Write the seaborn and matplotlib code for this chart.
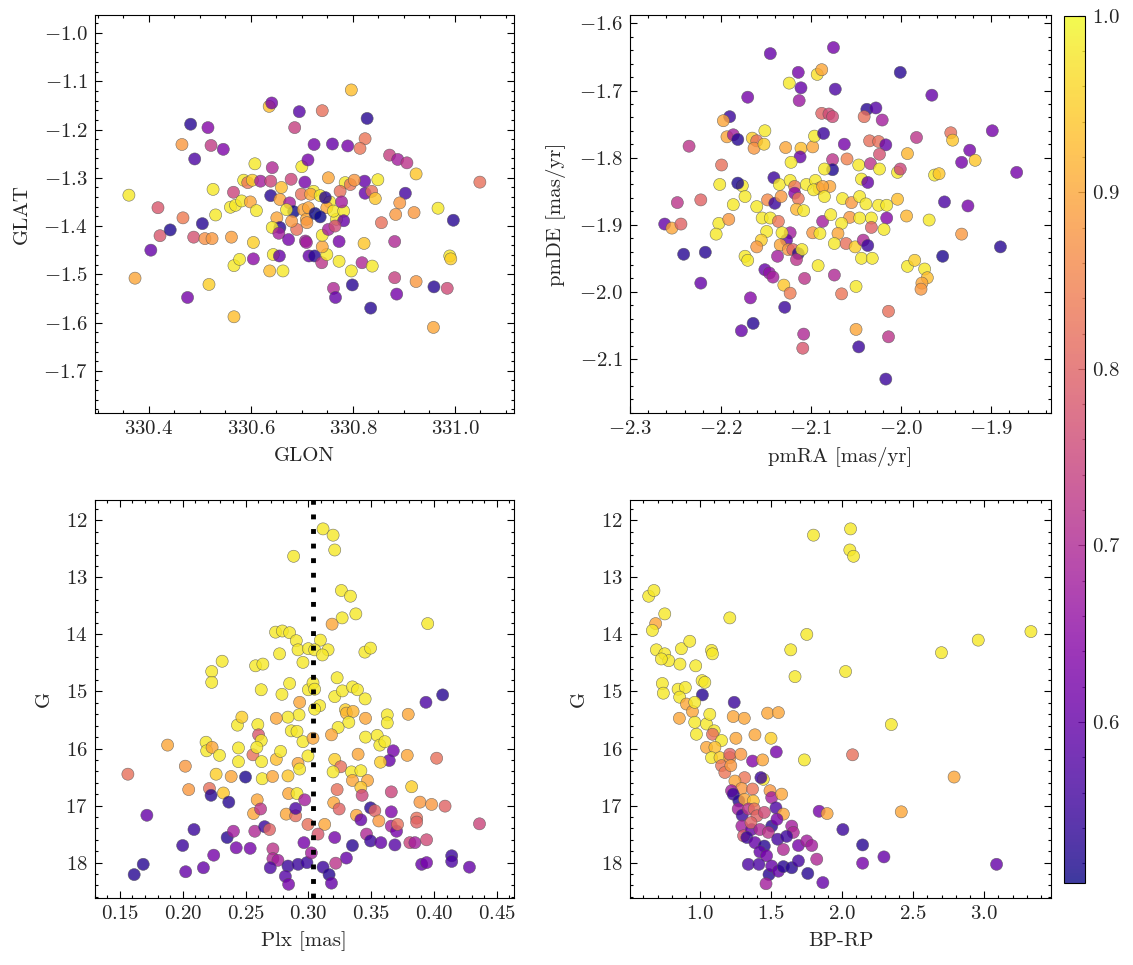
import numpy as np
import pandas as pd
import matplotlib
matplotlib.use("Agg")
import matplotlib.pyplot as plt
import seaborn as sns
from matplotlib.ticker import AutoMinorLocator

# ---------------- data ----------------
# Panel 1: GLON / GLAT
glon = [330.361, 330.373, 330.404, 330.418, 330.422, 330.442, 330.465, 330.467, 330.482, 330.490,
        330.476, 330.488, 330.505, 330.510, 330.524, 330.516, 330.522, 330.546, 330.518, 330.526,
        330.531, 330.562, 330.567, 330.566, 330.560, 330.570, 330.567, 330.578, 330.582, 330.586,
        330.594, 330.599, 330.603, 330.608, 330.611, 330.605, 330.605, 330.619, 330.639, 330.636,
        330.641, 330.642, 330.639, 330.637, 330.644, 330.656, 330.663, 330.686, 330.695, 330.700,
        330.712, 330.679, 330.660, 330.706, 330.657, 330.676, 330.684, 330.699, 330.651, 330.657,
        330.642, 330.655, 330.674, 330.690, 330.680, 330.707, 330.703, 330.670, 330.714, 330.709,
        330.797, 330.740, 330.828, 330.724, 330.760, 330.790, 330.824, 330.814, 330.872, 330.888,
        330.906, 330.924, 331.049, 330.849, 330.823, 330.824, 330.837, 330.844, 330.752, 330.785,
        330.795, 330.803, 330.903, 330.892, 330.884, 330.920, 330.856, 330.967, 330.997, 330.822,
        330.882, 330.773, 330.773, 330.818, 330.838, 330.797, 330.799, 330.762, 330.766, 330.835,
        330.882, 330.886, 330.924, 330.959, 330.985, 330.990, 330.992, 330.958, 330.725, 330.739,
        330.749, 330.740, 330.709, 330.740, 330.723, 330.717, 330.713, 330.736, 330.755, 330.710,
        330.768, 330.749, 330.762, 330.782, 330.775, 330.778, 330.782, 330.752, 330.765, 330.746,
        330.726, 330.736]
glat = [-1.336, -1.508, -1.450, -1.362, -1.420, -1.408, -1.231, -1.383, -1.189, -1.261,
        -1.548, -1.423, -1.395, -1.426, -1.426, -1.196, -1.233, -1.241, -1.521, -1.324,
        -1.377, -1.423, -1.588, -1.330, -1.361, -1.357, -1.482, -1.469, -1.348, -1.305,
        -1.310, -1.350, -1.305, -1.271, -1.368, -1.434, -1.468, -1.307, -1.307, -1.152,
        -1.145, -1.279, -1.337, -1.493, -1.459, -1.462, -1.493, -1.196, -1.163, -1.277,
        -1.263, -1.303, -1.320, -1.309, -1.345, -1.352, -1.370, -1.334, -1.383, -1.403,
        -1.403, -1.415, -1.428, -1.407, -1.390, -1.431, -1.366, -1.366, -1.462, -1.386,
        -1.118, -1.161, -1.177, -1.231, -1.230, -1.234, -1.219, -1.239, -1.253, -1.262,
        -1.269, -1.292, -1.309, -1.304, -1.307, -1.332, -1.328, -1.343, -1.300, -1.310,
        -1.314, -1.305, -1.332, -1.352, -1.376, -1.372, -1.393, -1.363, -1.388, -1.436,
        -1.432, -1.432, -1.473, -1.476, -1.483, -1.493, -1.522, -1.529, -1.548, -1.570,
        -1.507, -1.541, -1.515, -1.526, -1.529, -1.462, -1.468, -1.610, -1.462, -1.476,
        -1.459, -1.443, -1.434, -1.419, -1.328, -1.334, -1.362, -1.337, -1.350, -1.393,
        -1.386, -1.362, -1.369, -1.369, -1.328, -1.350, -1.389, -1.407, -1.400, -1.341,
        -1.374, -1.381]
prob1 = [0.98, 0.90, 0.60, 0.78, 0.78, 0.52, 0.88, 0.84, 0.53, 0.57,
         0.62, 0.77, 0.53, 0.87, 0.88, 0.64, 0.73, 0.63, 0.95, 0.98,
         0.98, 0.89, 0.93, 0.75, 0.98, 0.98, 0.98, 0.98, 0.98, 0.98,
         0.83, 0.90, 0.95, 0.98, 0.98, 0.95, 0.65, 0.68, 0.75, 0.93,
         0.62, 0.70, 0.53, 0.93, 0.98, 0.60, 0.98, 0.74, 0.58, 0.98,
         0.62, 0.75, 0.93, 0.62, 0.90, 0.68, 0.51, 0.82, 0.90, 0.53,
         0.98, 0.68, 0.62, 0.82, 0.88, 0.68, 0.90, 0.98, 0.60, 0.90,
         0.93, 0.82, 0.53, 0.62, 0.60, 0.62, 0.83, 0.83, 0.74, 0.68,
         0.72, 0.94, 0.82, 0.98, 0.60, 0.60, 0.82, 0.94, 0.90, 0.98,
         0.83, 0.88, 0.56, 0.88, 0.88, 0.88, 0.82, 0.98, 0.53, 0.94,
         0.70, 0.62, 0.98, 0.70, 0.98, 0.98, 0.53, 0.70, 0.60, 0.53,
         0.74, 0.62, 0.88, 0.53, 0.76, 0.98, 0.95, 0.90, 0.53, 0.72,
         0.98, 0.90, 0.68, 0.98, 0.98, 0.90, 0.90, 0.98, 0.98, 0.88,
         0.98, 0.90, 0.98, 0.98, 0.82, 0.68, 0.60, 0.68, 0.76, 0.53,
         0.51, 0.51]

# Panel 2: pmRA / pmDE
pmra = [-2.145, -2.114, -2.111, -2.113, -2.124, -2.093, -2.088, -2.170, -2.190, -2.197,
        -2.193, -2.186, -2.181, -2.235, -2.165, -2.151, -2.160, -2.163, -2.152, -2.128,
        -2.111, -2.098, -2.096, -2.112, -2.122, -2.199, -2.201, -2.176, -2.181, -2.173,
        -2.141, -2.135, -2.123, -2.118, -2.118, -2.114, -2.105, -2.095, -2.091, -2.248,
        -2.222, -2.186, -2.160, -2.148, -2.140, -2.133, -2.116, -2.108, -2.262, -2.254,
        -2.244, -2.202, -2.205, -2.191, -2.154, -2.145, -2.136, -2.149, -2.155, -2.160,
        -2.123, -2.127, -2.132, -2.134, -2.125, -2.120, -2.114, -2.110, -2.116, -2.098,
        -2.090, -2.087, -2.241, -2.217, -2.173, -2.170, -2.137, -2.092, -2.151, -2.146,
        -2.142, -2.130, -2.123, -2.107, -2.222, -2.167, -2.129, -2.164, -2.177, -2.108,
        -2.109, -2.086, -2.088, -2.097,
        -2.075, -2.001, -2.073, -1.966, -2.038, -2.028, -2.041, -2.021, -2.080, -2.076,
        -2.063, -2.035, -2.025, -2.017, -2.024, -1.983, -1.993, -1.945, -1.943, -1.899,
        -1.924, -1.933, -1.918, -1.872, -2.060, -2.076, -2.076, -2.047, -2.034, -2.024,
        -2.004, -2.001, -2.044, -2.037, -1.963, -1.958, -2.085, -2.079, -2.087, -2.085,
        -2.065, -2.055, -2.046, -2.039, -2.025, -2.016, -2.004, -1.952, -1.926, -1.994,
        -1.969, -2.016, -2.078, -2.057, -2.066, -2.046, -2.033, -2.033, -2.019, -2.070,
        -2.074, -2.061, -2.051, -2.042, -2.037, -2.044, -2.032, -1.933, -1.890, -1.954,
        -1.993, -1.985, -1.974, -1.971, -1.977, -1.978, -2.074, -2.050, -2.066, -2.014,
        -2.050, -2.014, -2.047, -2.017]
pmde = [-1.645, -1.673, -1.696, -1.715, -1.689, -1.676, -1.669, -1.710, -1.739, -1.745,
        -1.769, -1.766, -1.773, -1.783, -1.771, -1.760, -1.775, -1.786, -1.780, -1.785,
        -1.786, -1.784, -1.768, -1.799, -1.807, -1.811, -1.840, -1.842, -1.838, -1.858,
        -1.830, -1.840, -1.834, -1.843, -1.853, -1.861, -1.840, -1.834, -1.846, -1.867,
        -1.863, -1.870, -1.873, -1.863, -1.868, -1.858, -1.877, -1.879, -1.899, -1.905,
        -1.899, -1.898, -1.914, -1.892, -1.890, -1.890, -1.895, -1.910, -1.923, -1.933,
        -1.912, -1.923, -1.912, -1.930, -1.937, -1.937, -1.943, -1.937, -1.952, -1.912,
        -1.913, -1.895, -1.944, -1.941, -1.947, -1.953, -1.947, -1.961, -1.967, -1.972,
        -1.978, -1.990, -2.002, -1.980, -1.987, -2.009, -2.023, -2.047, -2.058, -2.063,
        -2.084, -1.764, -1.734, -1.848,
        -1.636, -1.673, -1.698, -1.707, -1.728, -1.726, -1.739, -1.744, -1.735, -1.739,
        -1.780, -1.775, -1.776, -1.781, -1.795, -1.770, -1.794, -1.763, -1.774, -1.760,
        -1.789, -1.807, -1.804, -1.822, -1.802, -1.803, -1.818, -1.811, -1.809, -1.817,
        -1.822, -1.817, -1.832, -1.837, -1.826, -1.824, -1.817, -1.843, -1.843, -1.858,
        -1.861, -1.867, -1.858, -1.869, -1.871, -1.871, -1.862, -1.866, -1.872, -1.887,
        -1.893, -1.890, -1.885, -1.889, -1.898, -1.890, -1.890, -1.904, -1.907, -1.913,
        -1.928, -1.928, -1.933, -1.923, -1.931, -1.950, -1.950, -1.914, -1.933, -1.947,
        -1.962, -1.953, -1.966, -1.979, -1.987, -1.996, -1.975, -1.992, -2.003, -2.029,
        -2.056, -2.067, -2.082, -2.130]
prob2 = [0.60, 0.62, 0.60, 0.67, 0.98, 0.97, 0.90, 0.62, 0.55, 0.90,
         0.90, 0.68, 0.53, 0.72, 0.95, 0.98, 0.82, 0.88, 0.95, 0.90,
         0.93, 0.90, 0.98, 0.60, 0.98, 0.82, 0.98, 0.98, 0.52, 0.98,
         0.55, 0.98, 0.98, 0.83, 0.64, 0.83, 0.98, 0.98, 0.90, 0.72,
         0.80, 0.98, 0.98, 0.86, 0.55, 0.88, 0.92, 0.98, 0.60, 0.90,
         0.80, 0.98, 0.98, 0.88, 0.98, 0.98, 0.83, 0.98, 0.95, 0.88,
         0.68, 0.60, 0.98, 0.90, 0.88, 0.80, 0.53, 0.98, 0.72, 0.88,
         0.98, 0.68, 0.53, 0.53, 0.98, 0.98, 0.68, 0.98, 0.60, 0.66,
         0.68, 0.94, 0.84, 0.72, 0.60, 0.64, 0.55, 0.53, 0.60, 0.70,
         0.78, 0.55, 0.80, 0.98,
         0.62, 0.53, 0.57, 0.60, 0.53, 0.58, 0.82, 0.68, 0.76, 0.76,
         0.62, 0.82, 0.82, 0.60, 0.77, 0.72, 0.92, 0.82, 0.94, 0.62,
         0.62, 0.62, 0.94, 0.62, 0.85, 0.72, 0.52, 0.98, 0.72, 0.98,
         0.98, 0.75, 0.98, 0.60, 0.98, 0.94, 0.98, 0.90, 0.90, 0.98,
         0.98, 0.88, 0.98, 0.98, 0.98, 0.98, 0.93, 0.57, 0.62, 0.92,
         0.98, 0.64, 0.98, 0.88, 0.98, 0.98, 0.98, 0.80, 0.98, 0.90,
         0.98, 0.82, 0.95, 0.70, 0.55, 0.98, 0.98, 0.88, 0.53, 0.52,
         0.98, 0.95, 0.98, 0.93, 0.90, 0.88, 0.70, 0.98, 0.83, 0.82,
         0.90, 0.72, 0.55, 0.55]

# Panel 3: Plx / G
plx = [0.2883, 0.1564, 0.1880, 0.1715, 0.1614, 0.1686, 0.2021, 0.2048, 0.2000, 0.2090,
       0.2024, 0.2165, 0.2231, 0.2231, 0.2314, 0.2186, 0.2191, 0.2234, 0.2293, 0.2266,
       0.2213, 0.2226, 0.2324, 0.2367, 0.2247, 0.2354, 0.2404, 0.2426, 0.2386, 0.2444,
       0.2444, 0.2436, 0.2471, 0.2500, 0.2537, 0.2574, 0.2559, 0.2598, 0.2604, 0.2625,
       0.2590, 0.2628, 0.2633, 0.2593, 0.2564, 0.2620, 0.2652, 0.2691, 0.2580, 0.2638,
       0.2625, 0.2739, 0.2793, 0.2851, 0.2904, 0.2918, 0.2957, 0.2771, 0.2790, 0.2851,
       0.2931, 0.2926, 0.2838, 0.2745, 0.2864, 0.2910, 0.2957, 0.2745, 0.2779, 0.2715,
       0.2838, 0.2918, 0.2931, 0.2843, 0.2910, 0.2824, 0.2899, 0.2899, 0.2971, 0.2965,
       0.2718, 0.2718, 0.2758, 0.2697, 0.2838, 0.2817, 0.2843, 0.2918, 0.2989, 0.2997,
       0.2997, 0.3000, 0.3000,
       0.3117, 0.3197, 0.3210, 0.3263, 0.3335, 0.3269, 0.3378, 0.3189, 0.3950, 0.3450,
       0.3495, 0.3096, 0.3157, 0.3050, 0.3112, 0.3037, 0.3050, 0.3229, 0.3210, 0.3271,
       0.3351, 0.3391, 0.3452, 0.3090, 0.3050, 0.3295, 0.3303, 0.3356, 0.3322, 0.3455,
       0.3628, 0.3628, 0.3795, 0.3936, 0.4069, 0.3237, 0.3184, 0.3037, 0.3455, 0.3548,
       0.3569, 0.3609, 0.3676, 0.3644, 0.3574, 0.3787, 0.4021, 0.3396, 0.3210, 0.3258,
       0.3197, 0.3343, 0.3418, 0.3351, 0.3471, 0.3418, 0.3428, 0.3229, 0.3660, 0.3822,
       0.3202, 0.3245, 0.3495, 0.3529, 0.3660, 0.3888, 0.3981, 0.4088, 0.4362, 0.3383,
       0.3418, 0.3561, 0.3660, 0.3702, 0.3710, 0.3862, 0.3862, 0.3130, 0.3077, 0.3210,
       0.3463, 0.3495, 0.3577, 0.3351, 0.3689, 0.3808, 0.3848, 0.3941, 0.3303, 0.3218,
       0.3117, 0.3165, 0.3184, 0.3902, 0.3941, 0.4141, 0.4141, 0.4282, 0.3024]
gmag3 = [12.63, 16.45, 15.94, 17.17, 18.21, 18.03, 16.31, 16.72, 17.70, 17.42,
         18.16, 18.09, 14.65, 14.84, 14.47, 15.89, 16.04, 15.98, 16.12, 16.45,
         16.70, 16.82, 16.78, 16.94, 17.87, 17.56, 17.45, 17.74, 16.49, 16.23,
         15.99, 15.59, 15.45, 16.50, 17.75, 17.45, 16.11, 15.58, 15.76, 15.86,
         15.98, 16.23, 16.53, 16.90, 17.14, 17.06, 17.37, 17.42, 14.55, 14.52,
         14.97, 13.96, 13.94, 13.97, 14.11, 14.27, 14.49, 14.34, 15.05, 14.86,
         15.19, 15.41, 15.45, 15.47, 15.69, 15.70, 15.88, 16.19, 16.05, 16.49,
         16.48, 16.26, 16.36, 16.79, 16.79, 17.15, 17.18, 17.05, 16.90, 17.65,
         17.76, 17.93, 17.96, 18.09, 18.06, 18.24, 18.38, 18.03, 18.00, 17.33,
         16.13, 14.25, 14.97,
         12.15, 12.26, 12.52, 13.23, 13.33, 13.71, 13.64, 13.82, 13.81, 14.31,
         14.24, 14.10, 14.27, 14.27, 14.36, 14.85, 14.96, 14.76, 15.09, 14.99,
         14.92, 14.97, 15.13, 15.25, 15.31, 15.32, 15.38, 15.35, 15.54, 15.47,
         15.41, 15.55, 15.40, 15.19, 15.06, 15.63, 15.76, 15.82, 15.80, 15.77,
         15.94, 15.88, 16.04, 16.21, 16.24, 16.12, 16.17, 16.10, 16.19, 16.32,
         16.41, 16.41, 16.39, 16.56, 16.56, 16.68, 16.82, 16.72, 16.76, 16.67,
         16.95, 17.06, 17.04, 17.09, 17.11, 16.94, 16.98, 17.01, 17.32, 17.17,
         17.25, 17.27, 17.36, 17.45, 17.33, 17.22, 17.29, 17.33, 17.50, 17.56,
         17.50, 17.62, 17.65, 17.70, 17.69, 17.65, 17.65, 17.60, 17.92, 18.01,
         18.08, 18.21, 18.36, 18.03, 18.00, 17.88, 17.98, 18.08, 17.83]
prob3 = [0.98, 0.82, 0.90, 0.60, 0.53, 0.53, 0.88, 0.88, 0.55, 0.55,
         0.60, 0.60, 0.98, 0.98, 0.98, 0.98, 0.98, 0.90, 0.98, 0.95,
         0.82, 0.53, 0.94, 0.53, 0.62, 0.53, 0.68, 0.62, 0.90, 0.98,
         0.98, 0.98, 0.95, 0.52, 0.62, 0.70, 0.82, 0.98, 0.78, 0.98,
         0.98, 0.98, 0.98, 0.90, 0.90, 0.72, 0.55, 0.80, 0.98, 0.98,
         0.98, 0.98, 0.98, 0.98, 0.98, 0.98, 0.98, 0.98, 0.98, 0.98,
         0.90, 0.98, 0.98, 0.90, 0.98, 0.98, 0.98, 0.93, 0.98, 0.90,
         0.94, 0.90, 0.98, 0.90, 0.98, 0.90, 0.82, 0.57, 0.68, 0.62,
         0.72, 0.70, 0.68, 0.57, 0.55, 0.58, 0.62, 0.55, 0.55, 0.82,
         0.98, 0.98, 0.98,
         0.98, 0.98, 0.98, 0.98, 0.98, 0.98, 0.98, 0.90, 0.98, 0.98,
         0.98, 0.98, 0.98, 0.98, 0.98, 0.98, 0.98, 0.98, 0.98, 0.98,
         0.98, 0.98, 0.98, 0.98, 0.98, 0.95, 0.92, 0.92, 0.98, 0.90,
         0.98, 0.98, 0.90, 0.57, 0.53, 0.98, 0.90, 0.90, 0.98, 0.98,
         0.98, 0.98, 0.62, 0.60, 0.95, 0.90, 0.82, 0.90, 0.95, 0.82,
         0.98, 0.98, 0.98, 0.90, 0.90, 0.94, 0.75, 0.82, 0.75, 0.95,
         0.90, 0.80, 0.53, 0.80, 0.63, 0.88, 0.88, 0.80, 0.75, 0.90,
         0.60, 0.88, 0.68, 0.62, 0.82, 0.82, 0.80, 0.90, 0.78, 0.62,
         0.70, 0.55, 0.60, 0.53, 0.58, 0.75, 0.68, 0.76, 0.60, 0.72,
         0.55, 0.53, 0.60, 0.60, 0.62, 0.55, 0.57, 0.60, 0.68]
plx_ref = 0.3037

# Panel 4: BP-RP / G
bprp = [1.798, 0.638, 0.675, 0.751, 0.687, 0.664, 0.692, 0.751, 0.779, 0.727,
        0.868, 0.927, 0.858, 0.969, 1.080, 1.087, 1.209, 0.734, 0.741, 0.845,
        0.896, 0.856, 0.904, 0.854, 0.946, 1.014, 1.033, 1.016, 0.962, 0.962,
        0.974, 1.045, 1.068, 1.099, 1.087, 1.151, 1.045, 1.104, 1.080, 1.140,
        1.151, 1.174, 1.209, 1.240, 1.233, 1.311, 1.252, 1.386, 1.475, 1.551,
        1.499, 1.536, 1.638, 1.668, 1.751, 1.734, 1.209, 1.287, 1.216, 1.369,
        1.440, 1.445, 1.428, 1.313, 1.245, 1.292, 1.369, 1.221, 1.233, 1.273,
        1.313, 1.374, 1.492, 1.504, 1.574, 1.268, 1.296, 1.341, 1.381, 1.400,
        1.452, 1.534, 1.586, 1.294, 1.306, 1.362, 1.329, 1.358, 1.421, 1.504,
        1.541, 1.480, 1.546, 1.386, 1.452, 1.421, 1.468, 1.339, 1.414, 1.485,
        1.464, 1.504, 1.551, 1.586, 1.645, 1.586, 1.645, 1.656, 1.692, 1.692,
        1.751, 1.786, 1.821, 1.758, 1.838, 1.864, 1.609,
        2.059, 2.054, 2.080, 3.329, 2.958, 2.699, 2.024, 2.346, 2.073, 2.788,
        2.416, 1.894, 2.005, 2.144, 2.294, 2.144, 3.087]
gmag4 = [12.26, 13.33, 13.23, 13.64, 13.81, 13.93, 14.27, 14.34, 14.46, 14.43,
         14.25, 14.12, 14.52, 14.55, 14.28, 14.34, 13.71, 14.86, 15.03, 14.96,
         14.93, 15.10, 15.22, 15.47, 15.35, 14.81, 14.84, 15.06, 15.19, 15.54,
         15.75, 15.57, 15.40, 15.69, 15.75, 15.86, 15.98, 15.98, 16.16, 16.16,
         16.30, 16.42, 16.16, 15.19, 15.44, 15.47, 15.82, 15.76, 15.38, 15.37,
         15.82, 16.06, 14.27, 14.74, 14.00, 16.20, 16.10, 16.10, 16.30, 16.22,
         16.20, 16.54, 16.51, 16.51, 16.57, 16.70, 16.71, 16.74, 16.80, 16.92,
         16.89, 16.92, 16.74, 16.86, 16.80, 17.06, 17.17, 17.06, 17.06, 17.18,
         17.12, 17.04, 17.15, 17.36, 17.53, 17.42, 17.56, 17.30, 17.42, 17.36,
         17.24, 17.47, 17.59, 17.65, 17.71, 17.81, 17.88, 18.03, 18.03, 18.21,
         18.37, 18.06, 18.15, 18.07, 18.09, 17.77, 17.36, 17.47, 17.70, 17.97,
         17.62, 17.70, 17.94, 18.19, 17.10, 18.35, 17.54,
         12.15, 12.52, 12.63, 13.95, 14.10, 14.32, 14.65, 15.58, 16.11, 16.50,
         17.11, 17.14, 17.42, 17.69, 17.90, 18.01, 18.03]
prob4 = [0.98, 0.98, 0.98, 0.98, 0.90, 0.98, 0.98, 0.98, 0.98, 0.98,
         0.98, 0.98, 0.98, 0.98, 0.98, 0.98, 0.98, 0.98, 0.98, 0.98,
         0.98, 0.98, 0.90, 0.90, 0.90, 0.98, 0.98, 0.53, 0.98, 0.98,
         0.98, 0.98, 0.98, 0.98, 0.82, 0.98, 0.90, 0.93, 0.98, 0.95,
         0.83, 0.83, 0.88, 0.55, 0.90, 0.90, 0.90, 0.90, 0.90, 0.90,
         0.95, 0.62, 0.98, 0.98, 0.98, 0.98, 0.80, 0.88, 0.88, 0.64,
         0.90, 0.98, 0.55, 0.83, 0.90, 0.88, 0.83, 0.68, 0.55, 0.53,
         0.90, 0.93, 0.88, 0.68, 0.90, 0.68, 0.55, 0.72, 0.82, 0.80,
         0.76, 0.57, 0.90, 0.68, 0.78, 0.60, 0.55, 0.80, 0.70, 0.53,
         0.62, 0.72, 0.56, 0.60, 0.53, 0.60, 0.62, 0.57, 0.57, 0.53,
         0.68, 0.60, 0.60, 0.53, 0.53, 0.70, 0.68, 0.70, 0.62, 0.56,
         0.68, 0.68, 0.70, 0.53, 0.62, 0.60, 0.55,
         0.98, 0.98, 0.98, 0.98, 0.98, 0.98, 0.98, 0.98, 0.82, 0.90,
         0.90, 0.90, 0.55, 0.53, 0.60, 0.62, 0.60]

prob_min, prob_max = 0.509, 1.0

# ---------------- style ----------------
sns.set_style("ticks")
plt.rcParams.update({
    "font.family": "serif",
    "font.serif": ["cmr10", "DejaVu Serif"],
    "mathtext.fontset": "cm",
    "axes.formatter.use_mathtext": True,
    "axes.unicode_minus": True,
    "font.size": 15,
    "axes.labelsize": 15,
    "xtick.labelsize": 15,
    "ytick.labelsize": 15,
    "axes.linewidth": 0.8,
    "axes.edgecolor": "black",
})

fig = plt.figure(figsize=(11.33, 9.65), dpi=100)
ax1 = fig.add_axes([0.0836, 0.5717, 0.3701, 0.4131])
ax2 = fig.add_axes([0.5560, 0.5717, 0.3716, 0.4131])
ax3 = fig.add_axes([0.0836, 0.0691, 0.3701, 0.4128])
ax4 = fig.add_axes([0.5560, 0.0691, 0.3716, 0.4128])
cax = fig.add_axes([0.9391, 0.0853, 0.0188, 0.8984])

scatter_kw = dict(palette="plasma", hue_norm=(prob_min, prob_max), legend=False,
                  alpha=0.8, s=76, edgecolor="#555555", linewidth=0.4)

panels = [
    (ax1, glon, glat, prob1, "GLON", "GLAT"),
    (ax2, pmra, pmde, prob2, "pmRA [mas/yr]", "pmDE [mas/yr]"),
    (ax3, plx, gmag3, prob3, "Plx [mas]", "G"),
    (ax4, bprp, gmag4, prob4, "BP-RP", "G"),
]
for ax, xs, ys, ps, xl, yl in panels:
    df = pd.DataFrame({"x": xs, "y": ys, "p": ps})
    sns.scatterplot(data=df, x="x", y="y", hue="p", ax=ax, **scatter_kw)
    ax.set_xlabel(xl, labelpad=6)
    ax.set_ylabel(yl, labelpad=9)

ax3.axvline(plx_ref, color="black", linestyle=(0, (1, 2)), linewidth=3.5, zorder=5)

ax1.set_xlim(330.294, 331.116)
ax1.set_ylim(-1.788, -0.962)
ax1.set_xticks([330.4, 330.6, 330.8, 331.0])
ax1.set_yticks(np.round(np.arange(-1.7, -0.95, 0.1), 1))

ax2.set_xlim(-2.3005, -1.834)
ax2.set_ylim(-2.181, -1.587)
ax2.set_xticks([-2.3, -2.2, -2.1, -2.0, -1.9])
ax2.set_yticks(np.round(np.arange(-2.1, -1.55, 0.1), 1))

ax3.set_xlim(0.130, 0.4637)
ax3.set_ylim(18.626, 11.643)
ax3.set_xticks(np.round(np.arange(0.15, 0.46, 0.05), 2))
ax3.set_yticks([12, 13, 14, 15, 16, 17, 18])

ax4.set_xlim(0.506, 3.47)
ax4.set_ylim(18.626, 11.643)
ax4.set_xticks([1.0, 1.5, 2.0, 2.5, 3.0])
ax4.set_yticks([12, 13, 14, 15, 16, 17, 18])

for ax in (ax1, ax2, ax3, ax4):
    ax.xaxis.set_minor_locator(AutoMinorLocator())
    ax.yaxis.set_minor_locator(AutoMinorLocator())
    ax.tick_params(which="both", direction="in", top=True, right=True,
                   bottom=True, left=True, width=0.8, color="black")
    ax.tick_params(which="major", length=5, pad=5)
    ax.tick_params(which="minor", length=2.5)
    for sp in ax.spines.values():
        sp.set_visible(True)
        sp.set_linewidth(0.8)

sm = plt.cm.ScalarMappable(cmap="plasma",
                           norm=plt.Normalize(vmin=prob_min, vmax=prob_max))
cb = fig.colorbar(sm, cax=cax, alpha=0.8)
cb.set_ticks([0.6, 0.7, 0.8, 0.9, 1.0])
cb.ax.yaxis.set_minor_locator(AutoMinorLocator(5))
cb.ax.tick_params(which="both", direction="in", width=0.8)
cb.ax.tick_params(which="major", length=5, pad=5)
cb.ax.tick_params(which="minor", length=2.5)
cb.outline.set_linewidth(0.8)

fig.savefig("out.png", dpi=100)
